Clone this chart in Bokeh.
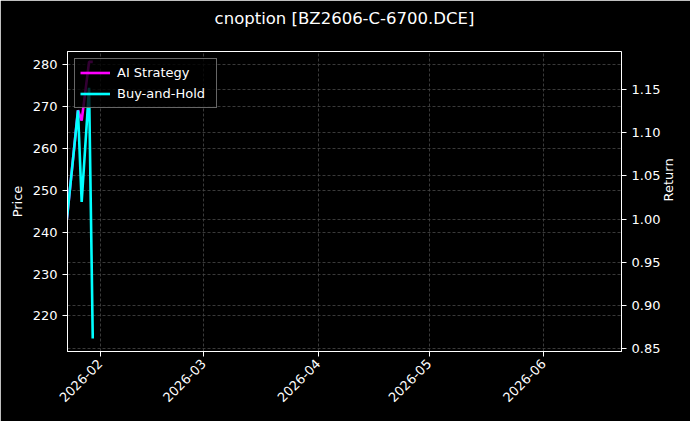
import pandas as pd
from math import pi
from bokeh.plotting import figure
from bokeh.models import (LinearAxis, Range1d, FixedTicker, Grid, DatetimeTickFormatter,
                          PrintfTickFormatter, Legend, LegendItem)
from bokeh.embed import file_html
from bokeh.resources import INLINE

# ---- data ----
chart_title = "cnoption [BZ2606-C-6700.DCE]"
dates = ["2026-01-23", "2026-01-26", "2026-01-27", "2026-01-29", "2026-01-30"]
ai_strategy = [1.000, 1.126, 1.114, 1.182, 1.182]
buy_and_hold = [1.000, 1.126, 1.020, 1.152, 0.862]
x_tick_dates = ["2026-02-01", "2026-03-01", "2026-04-01", "2026-05-01", "2026-06-01"]
price_ticks = [220, 230, 240, 250, 260, 270, 280]
return_ticks = [0.85, 0.90, 0.95, 1.00, 1.05, 1.10, 1.15]
x_limits = ["2026-01-23 04:00", "2026-06-22 01:00"]
price_limits = [211.5, 283.2]
return_limits = [0.847, 1.194]

FONT = "DejaVu Sans"
GRID = "#474747"
x = [pd.Timestamp(d) for d in dates]

p = figure(width=690, height=421, x_axis_type="datetime",
           x_range=Range1d(pd.Timestamp(x_limits[0]), pd.Timestamp(x_limits[1])),
           y_range=Range1d(*price_limits),
           output_backend="svg", toolbar_location=None,
           min_border_left=67, min_border_right=69, min_border_top=51, min_border_bottom=70)
p.extra_y_ranges = {"ret": Range1d(*return_limits)}

p.background_fill_color = "black"
p.border_fill_color = "black"
p.outline_line_color = "white"
p.outline_line_width = 1

# trailing empty line lifts the title towards the top of the page
p.title.text = chart_title + "\n"
p.title.align = "center"
p.title.vertical_align = "top"
p.title.text_color = "white"
p.title.text_font = FONT
p.title.text_font_size = "16.5px"
p.title.text_font_style = "normal"
p.title.standoff = 6

def style_axis(ax):
    ax.axis_line_color = "white"
    ax.major_tick_line_color = "white"
    ax.minor_tick_line_color = None
    ax.major_tick_out = 5
    ax.major_tick_in = 0
    ax.major_label_text_color = "white"
    ax.major_label_text_font = FONT
    ax.major_label_text_font_size = "13px"
    ax.axis_label_text_color = "white"
    ax.axis_label_text_font = FONT
    ax.axis_label_text_font_size = "13px"
    ax.axis_label_text_font_style = "normal"

# x axis
xa = p.xaxis[0]
xa.ticker = FixedTicker(ticks=[pd.Timestamp(d).value / 1e6 for d in x_tick_dates])
xa.formatter = DatetimeTickFormatter(days="%Y-%m", months="%Y-%m", years="%Y-%m",
                                     hours="%Y-%m", minutes="%Y-%m")
xa.major_label_orientation = pi / 4
style_axis(xa)

# left axis
ya = p.yaxis[0]
ya.ticker = FixedTicker(ticks=price_ticks)
ya.axis_label = "Price"
style_axis(ya)

# right axis (bounds shift the label anchor so the rotated text is centred)
ra = LinearAxis(y_range_name="ret", axis_label="Return",
                ticker=FixedTicker(ticks=return_ticks),
                formatter=PrintfTickFormatter(format="%.2f"),
                bounds=(return_limits[0], return_ticks[-1]))
style_axis(ra)
try:
    ra.axis_label_orientation = pi / 2
except Exception:
    pass
p.add_layout(ra, "right")

# grids
for g in (p.xgrid[0], p.ygrid[0]):
    g.grid_line_color = GRID
    g.grid_line_dash = "3 2"
    g.grid_line_width = 0.8
p.xgrid[0].ticker = xa.ticker
p.ygrid[0].ticker = ya.ticker
rg = Grid(dimension=1, ticker=ra.ticker, y_range_name="ret",
          grid_line_color=GRID, grid_line_dash="3 2", grid_line_width=0.8)
p.add_layout(rg)

r_ai = p.line(x, ai_strategy, y_range_name="ret", line_color="#ff00ff", line_width=2.6)
r_bh = p.line(x, buy_and_hold, y_range_name="ret", line_color="#00ffff", line_width=2.6)

legend = Legend(items=[LegendItem(label="AI Strategy", renderers=[r_ai]),
                       LegendItem(label="Buy-and-Hold", renderers=[r_bh])],
                location="top_left")
legend.background_fill_color = "black"
legend.background_fill_alpha = 0.8
legend.border_line_color = "#cccccc"
legend.border_line_width = 1
legend.label_text_color = "white"
legend.label_text_font = FONT
legend.label_text_font_size = "13px"
legend.glyph_width = 30
legend.glyph_height = 17
legend.label_height = 17
legend.label_width = 94
legend.spacing = 4
legend.padding = 5
legend.margin = 7
legend.label_standoff = 7
p.add_layout(legend)

open("out.html", "w").write(file_html(p, INLINE))
